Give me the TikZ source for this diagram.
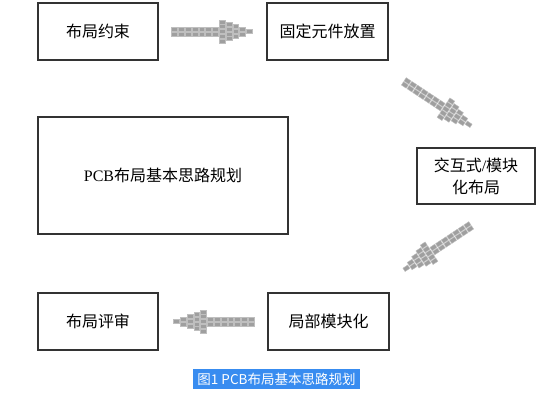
\documentclass[tikz,border=0pt]{standalone}
\usepackage{fontspec}
\setmainfont{Liberation Serif}
\newfontfamily\cjk{Noto Sans CJK SC}
\usetikzlibrary{calc}
\definecolor{capblue}{RGB}{56,140,240}
\tikzset{
  box/.style={draw=black!80, line width=1.3pt, align=center, inner sep=0pt,
              font=\fontsize{16}{22}\selectfont},
  blk/.style={fill=gray!75, draw=gray!50, line width=0.4pt},
  blkarrow/.pic={
    \foreach \c/\n in {0/2,1/2,2/2,3/2,4/2,5/2,6/2,7/5,8/4,9/3,10/2,11/1}{
      \foreach \r in {1,...,\n}{
        \path[blk] ({-41+\c*6.8},{(\r-(\n+1)/2)*4.8-2}) rectangle ++(5.8,4);
      }
    }
  }
}
\begin{document}
\begin{tikzpicture}[x=1pt,y=-1pt]
\useasboundingbox (0,0) rectangle (536,406);
\node[box, minimum width=120pt, minimum height=57pt] (cons) at (98,31.5) {\cjk 布局约束};
\node[box, minimum width=121pt, minimum height=57pt] (fix) at (327.5,31.5) {\cjk 固定元件放置};
\node[box, minimum width=250pt, minimum height=117pt] (pcb) at (163,175.5) {PCB{\cjk 布局基本思路规划}};
\node[box, minimum width=118pt, minimum height=56pt] (inter) at (476,176) {{\cjk 交互式}/{\cjk 模块}\\{\cjk 化布局}};
\node[box, minimum width=120pt, minimum height=57pt] (rev) at (98,321.5) {\cjk 布局评审};
\node[box, minimum width=121pt, minimum height=57pt] (loc) at (328.5,321.5) {\cjk 局部模块化};
\pic at ($(cons.east)!0.5!(fix.west)$) {blkarrow};
\pic[rotate=-33.5] at (438,104) {blkarrow};
\pic[rotate=-146.5] at (437,248) {blkarrow};
\pic[rotate=180] at ($(rev.east)!0.5!(loc.west)$) {blkarrow};
\node[fill=capblue, text=white, minimum width=167pt, minimum height=20pt, inner sep=0pt,
      font=\cjk\fontsize{13.5}{16}\selectfont] (cap) at (276.5,379) {图1 PCB布局基本思路规划};
\end{tikzpicture}
\end{document}
